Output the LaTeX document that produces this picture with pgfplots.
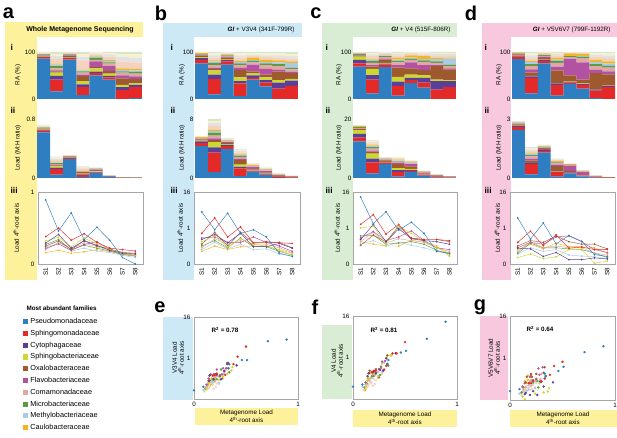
\documentclass[border=0pt]{standalone}
\usepackage{pgfplots}
\usepackage{pgfplotstable}
\pgfplotsset{compat=1.18}
\usepackage{fontspec}
\setmainfont{Liberation Sans}

\definecolor{cbl}{HTML}{2E7EC1}
\definecolor{crd}{HTML}{E42A28}
\definecolor{cpu}{HTML}{5B3E98}
\definecolor{cyg}{HTML}{CBD831}
\definecolor{cbr}{HTML}{9E5A2E}
\definecolor{cmg}{HTML}{B352A2}
\definecolor{cpk}{HTML}{E0A7A3}
\definecolor{cgn}{HTML}{5C9B45}
\definecolor{clb}{HTML}{AACBE6}
\definecolor{cor}{HTML}{F5B520}
\definecolor{co1}{HTML}{F3D2BF}
\definecolor{co2}{HTML}{E2E2E2}
\definecolor{co3}{HTML}{F8F1CB}
\definecolor{co4}{HTML}{D5E5CF}
\definecolor{bgy}{HTML}{FDF19C}
\definecolor{bgb}{HTML}{CDE9F6}
\definecolor{bgg}{HTML}{D8EDD3}
\definecolor{bgp}{HTML}{F8C9DE}

\newcommand{\fs}{\fontsize{6.3}{7}\selectfont}

% relative abundance (%) per family, tot = total load (M:H ratio)
\pgfplotstableread{
s bl rd pu yg br mg pk gn lb or o1 o2 o3 o4 tot
1 86 3 1 1 1 0.5 0.5 2 0.5 0.5 1 1 1 1 0.72
2 16 25 8 7 3 2 4 5 3 2 10 6 5 4 0.29
3 84 3 1 1 3 1 1 1 1 0.5 1.5 1 0.5 0.5 0.31
4 8 17 6 7 11 3 4 3 2 1 20 8 6 4 0.16
5 50 5 3 7 3 12 3 5 2 2 3 2 2 1 0.14
6 41 5 3 5 6 10 5 3 3 2 7 5 3 2 0.036
7 0 19 6 5 14 6 6 3 3 3 15 10 6 4 0.01
8 2 23 5 3 10 5 6 4 3 3 14 10 7 5 0.005
}\RAa
\pgfplotstableread{
s bl rd pu yg br mg pk gn lb or o1 o2 o3 o4 tot
1 76 7 4 2 3 1 1 1 0.5 2 1 0.5 0.5 0.5 5.7
2 10 33 9 9 3 3 5 5 3 2 6 5 4 3 8.0
3 73 7 3 2 3 2 2 1 1 1 2 1 1 1 5.4
4 6 27 5 8 16 4 6 4 3 2 7 5 4 3 3.95
5 41 4 5 5 4 14 5 3 2 5 3 3 3 3 2.0
6 27 8 5 6 6 12 8 4 3 5 5 4 4 3 1.45
7 0 22 13 5 18 4 8 4 4 4 6 5 4 3 0.63
8 0 28 11 4 12 3 5 4 10 3 6 5 5 4 0.31
}\RAb
\pgfplotstableread{
s bl rd pu yg br mg pk gn lb or o1 o2 o3 o4 tot
1 69 7 7 7 2 1 1 2 0.5 1 1 1 0.5 0 18.0
2 12 29 10 13 5 3 5 4 3 2 5 4 3 2 12.9
3 68 5 2 2 7 2 3 2 2 1 2 2 1 1 7.1
4 7 21 9 10 20 5 6 3 3 4 5 3 2 2 7.1
5 34 6 5 7 13 13 5 3 2 5 3 2 2 0 6.0
6 24 11 10 5 12 10 7 3 3 6 3 3 2 1 2.5
7 0 20 18 3 29 2 5 3 5 3 4 4 2 2 1.2
8 0 25 13 2 23 2 5 3 13 2 4 4 2 2 0.65
}\RAc
\pgfplotstableread{
s bl rd pu yg br mg pk gn lb or o1 o2 o3 o4 tot
1 85 5 2 0.5 2 1 1 1 0.5 1 0.5 0.5 0 0 2.88
2 12 33 3 1 7 7 7 4 5 2 6 6 4 3 1.57
3 76 5 3 0.5 3 2 2 2 1 1.5 1.5 1 1 0.5 1.69
4 7 23 3 1 27 8 8 4 3 4 5 3 2 2 0.98
5 32 3 2 1 12 36 3 2 1 5 1 1 1 0 0.73
6 22 8 2 1 8 37 9 3 2 4 2 1 1 0 0.39
7 2 16 2 0 35 7 8 4 5 5 6 4 3 3 0.13
8 0 25 3 0.5 24 6 8 4 5 4.5 7 6 4 3 0.05
}\RAd

% load on 4th-root axis per family: a = metagenome, b = V3V4, c = V4, d = V5V6V7
\pgfplotstableread{
s a b c d
1 0.89 1.45 1.86 1.28
2 0.46 0.95 1.12 0.69
3 0.71 1.41 1.45 1.14
4 0.34 0.85 0.94 0.56
5 0.51 0.95 1.16 0.79
6 0.33 0.75 0.85 0.63
7 0.09 0.30 0.35 0.26
8 0.00 0.21 0.30 0.21
}\TBl
\pgfplotstableread{
s a b c d
1 0.38 0.85 1.10 0.60
2 0.50 1.28 1.37 0.91
3 0.33 0.75 0.83 0.51
4 0.42 1.03 1.10 0.81
5 0.30 0.59 0.71 0.44
6 0.22 0.62 0.68 0.47
7 0.20 0.59 0.68 0.40
8 0.18 0.57 0.65 0.40
}\TRd
\pgfplotstableread{
s a b c d
1 0.29 0.68 0.68 0.44
2 0.41 0.82 1.10 0.42
3 0.22 0.59 0.62 0.21
4 0.32 0.85 0.98 0.32
5 0.26 0.48 0.70 0.12
6 0.19 0.48 0.65 0.12
7 0.15 0.57 0.62 0.17
8 0.14 0.44 0.55 0.14
}\TPu
\pgfplotstableread{
s a b c d
1 0.32 0.62 1.00 0.18
2 0.37 0.78 1.05 0.28
3 0.24 0.47 0.55 0.15
4 0.36 0.70 1.05 0.20
5 0.28 0.55 0.85 0.40
6 0.20 0.50 0.62 0.40
7 0.14 0.38 0.45 0.02
8 0.12 0.25 0.30 0.08
}\TYg
\pgfplotstableread{
s a b c d
1 0.25 0.55 0.52 0.50
2 0.32 0.88 0.80 0.65
3 0.20 0.50 0.62 0.60
4 0.33 0.88 1.05 0.78
5 0.25 0.58 0.72 0.62
6 0.21 0.60 0.68 0.55
7 0.16 0.60 0.68 0.55
8 0.15 0.45 0.62 0.42
}\TBr
\pgfplotstableread{
s a b c d
1 0.22 0.72 0.72 0.45
2 0.28 0.75 0.90 0.60
3 0.19 0.60 0.65 0.55
4 0.27 0.60 0.75 0.75
5 0.31 0.75 0.92 0.78
6 0.20 0.60 0.65 0.62
7 0.14 0.50 0.45 0.40
8 0.12 0.35 0.40 0.32
}\TMg
\pgfplotstableread{
s a b c d
1 0.20 0.45 0.62 0.35
2 0.30 0.70 0.88 0.62
3 0.21 0.55 0.58 0.45
4 0.29 0.65 0.70 0.50
5 0.24 0.55 0.65 0.45
6 0.19 0.55 0.60 0.45
7 0.15 0.45 0.45 0.30
8 0.13 0.32 0.35 0.25
}\TPk
\pgfplotstableread{
s a b c d
1 0.27 0.50 0.78 0.30
2 0.34 0.65 0.80 0.58
3 0.20 0.45 0.55 0.45
4 0.26 0.72 0.58 0.45
5 0.22 0.48 0.62 0.42
6 0.18 0.48 0.55 0.40
7 0.13 0.35 0.38 0.30
8 0.11 0.25 0.28 0.18
}\TGn
\pgfplotstableread{
s a b c d
1 0.24 0.40 0.55 0.28
2 0.28 0.60 0.65 0.45
3 0.18 0.42 0.50 0.35
4 0.22 0.55 0.60 0.40
5 0.18 0.40 0.52 0.25
6 0.16 0.42 0.45 0.22
7 0.12 0.28 0.35 0.20
8 0.09 0.22 0.30 0.15
}\TLb
\pgfplotstableread{
s a b c d
1 0.16 0.35 0.62 0.40
2 0.19 0.50 0.55 0.55
3 0.15 0.40 0.50 0.42
4 0.17 0.48 0.50 0.58
5 0.20 0.50 0.65 0.48
6 0.17 0.50 0.62 0.48
7 0.14 0.40 0.50 0.45
8 0.12 0.30 0.22 0.30
}\TOr
% less abundant families (scatter only)
\pgfplotstableread{
a b c d
0.12 0.22 0.25 0.18
0.15 0.30 0.35 0.25
0.18 0.35 0.40 0.30
0.20 0.42 0.48 0.32
0.22 0.38 0.45 0.36
0.14 0.26 0.30 0.22
0.25 0.48 0.55 0.40
0.17 0.40 0.38 0.28
0.10 0.18 0.22 0.15
0.28 0.52 0.60 0.45
0.21 0.30 0.36 0.26
0.13 0.34 0.28 0.20
0.19 0.25 0.32 0.24
0.16 0.45 0.42 0.34
0.24 0.36 0.50 0.30
0.11 0.28 0.20 0.12
}\TOth

\pgfplotsset{
  base/.style={scale only axis, anchor=south west, font=\fs, tick label style={font=\fs},
    /pgf/number format/assume math mode=true, major tick length=0pt},
  barax/.style={base, ybar stacked, bar width=1, xmin=0.5, xmax=8.5, ymin=0, xtick=\empty,
    axis line style={draw=none}, clip=false, yticklabel style={inner sep=1.5pt}},
  lineax/.style={base, xmin=0.4, xmax=8.6, ymin=0, xtick={1,...,8},
    xticklabels={S1,S2,S3,S4,S5,S6,S7,S8}, xticklabel style={rotate=90, anchor=east},
    axis line style={draw=gray!70, line width=0.5pt}, clip=false, height=72pt},
  scax/.style={base, xmin=0, xmax=1, ymin=0, ymax=2, xtick={0,1}, ytick={1,2}, yticklabels={1,16},
    axis line style={draw=gray!70, line width=0.5pt}, clip=false},
}

\newcommand{\RAbars}[1]{\pgfplotsinvokeforeach{bl,rd,pu,yg,br,mg,pk,gn,lb,or,o1,o2,o3,o4}{%
  \addplot[fill=c##1, draw=none, legend image code/.code={\fill[c##1] (0pt,-2.6pt) rectangle (5.2pt,2.6pt);}] table[x=s,y=##1]{#1};}}
\newcommand{\Loadbars}[1]{\pgfplotsinvokeforeach{bl,rd,pu,yg,br,mg,pk,gn,lb,or,o1,o2,o3,o4}{%
  \addplot[fill=c##1, draw=none] table[x=s,y expr=\thisrow{##1}*\thisrow{tot}/100]{#1};}}
\newcommand{\famline}[3]{\addplot[color=#2, line width=0.45pt, mark=*, mark size=0.65pt] table[x=s,y=#3]{#1};}
\newcommand{\RowLines}[1]{\famline{\TOr}{cor}{#1}\famline{\TLb}{clb}{#1}\famline{\TGn}{cgn}{#1}%
  \famline{\TPk}{cpk}{#1}\famline{\TMg}{cmg}{#1}\famline{\TBr}{cbr}{#1}\famline{\TYg}{cyg}{#1}%
  \famline{\TPu}{cpu}{#1}\famline{\TRd}{crd}{#1}\famline{\TBl}{cbl}{#1}}
\newcommand{\famdot}[3]{\addplot[only marks, color=#2, mark=*, mark size=1pt, mark options={draw=none, fill=#2}] table[x=a,y=#3]{#1};}
\newcommand{\Scatter}[1]{\famdot{\TOth}{co1}{#1}\famdot{\TOr}{cor}{#1}\famdot{\TLb}{clb}{#1}\famdot{\TGn}{cgn}{#1}%
  \famdot{\TPk}{cpk}{#1}\famdot{\TMg}{cmg}{#1}\famdot{\TBr}{cbr}{#1}\famdot{\TYg}{cyg}{#1}%
  \famdot{\TPu}{cpu}{#1}\famdot{\TRd}{crd}{#1}\famdot{\TBl}{cbl}{#1}}

\begin{document}
\begin{tikzpicture}[x=1pt,y=1pt]
\useasboundingbox (0,0) rectangle (617,438);
% coloured panels
\fill[bgy] (5,416) rectangle (143,401); \fill[bgy] (5,401) rectangle (37,158);
\fill[bgb] (163,415) rectangle (302,401); \fill[bgb] (163,401) rectangle (194,158);
\fill[bgg] (322,415) rectangle (457,401); \fill[bgg] (322,401) rectangle (353,158);
\fill[bgp] (482,415) rectangle (617,401); \fill[bgp] (482,401) rectangle (511,158);
\fill[bgb] (163,121) rectangle (193,38); \fill[bgy] (195,30) rectangle (298,13);
\fill[bgg] (322,113) rectangle (352,39); \fill[bgy] (353,28) rectangle (457,11);
\fill[bgp] (480,122) rectangle (508,38); \fill[bgy] (510,28) rectangle (617,11);

% ---------- panel a ----------
\begin{axis}[barax, at={(37pt,339pt)}, width=105pt, height=47pt, ymax=100, ytick={0,100},
  legend style={at={(axis description cs:-0.162,-4.574)}, anchor=north west, draw=none, fill=none,
    font=\fontsize{7.3}{8}\selectfont, row sep=1pt}, legend cell align=left]
\RAbars{\RAa}
\legend{Pseudomonadaceae,Sphingomonadaceae,Cytophagaceae,Sphingobacteriaceae,Oxalobacteraceae,Flavobacteriaceae,Comamonadaceae,Microbacteriaceae,Methylobacteriaceae,Caulobacteraceae}
\end{axis}
\begin{axis}[barax, at={(37pt,260pt)}, width=105pt, height=59pt, ymax=0.8, ytick={0,0.8}]
\Loadbars{\RAa}
\end{axis}
\begin{axis}[lineax, at={(38pt,174pt)}, width=105pt, ymax=1, ytick={0,1}]
\RowLines{a}
\end{axis}
% ---------- panel b ----------
\begin{axis}[barax, at={(195pt,339pt)}, width=103pt, height=47pt, ymax=100, ytick={0,100}]
\RAbars{\RAb}
\end{axis}
\begin{axis}[barax, at={(195pt,260pt)}, width=103pt, height=59pt, ymax=8, ytick={0,8}]
\Loadbars{\RAb}
\end{axis}
\begin{axis}[lineax, at={(194pt,174pt)}, width=106pt, ymax=2, ytick={0,1,2}, yticklabels={0,1,16}]
\RowLines{b}
\end{axis}
% ---------- panel c ----------
\begin{axis}[barax, at={(353pt,339pt)}, width=103pt, height=47pt, ymax=100, ytick={0,100}]
\RAbars{\RAc}
\end{axis}
\begin{axis}[barax, at={(353pt,260pt)}, width=103pt, height=59pt, ymax=20, ytick={0,20}]
\Loadbars{\RAc}
\end{axis}
\begin{axis}[lineax, at={(353pt,174pt)}, width=104pt, ymax=2, ytick={0,1,2}, yticklabels={0,1,16}]
\RowLines{c}
\end{axis}
% ---------- panel d ----------
\begin{axis}[barax, at={(512pt,339pt)}, width=103pt, height=47pt, ymax=100, ytick={0,100}]
\RAbars{\RAd}
\end{axis}
\begin{axis}[barax, at={(512pt,260pt)}, width=103pt, height=59pt, ymax=3, ytick={0,3}]
\Loadbars{\RAd}
\end{axis}
\begin{axis}[lineax, at={(510pt,174pt)}, width=105pt, ymax=2, ytick={0,1,2}, yticklabels={0,1,16}]
\RowLines{d}
\end{axis}
% ---------- scatter e, f, g ----------
\begin{axis}[scax, at={(194pt,39pt)}, width=104pt, height=82pt]
\Scatter{b}
\end{axis}
\begin{axis}[scax, at={(353pt,39pt)}, width=104pt, height=83pt]
\Scatter{c}
\end{axis}
\begin{axis}[scax, at={(510pt,38pt)}, width=105pt, height=84pt]
\Scatter{d}
\end{axis}

% ---------- text ----------
\tikzset{plab/.style={font=\bfseries\fontsize{20}{20}\selectfont}, rlab/.style={anchor=west, font=\bfseries\fontsize{8.5}{9}\selectfont}}
\node[plab] at (8.5,425) {a};
\node[plab] at (161,425) {b};
\node[plab] at (316,425) {c};
\node[plab] at (471,425) {d};
\node[plab] at (160,131) {e};
\node[plab] at (315,131) {f};
\node[plab] at (480,131) {g};

\node[font=\bfseries\fontsize{7}{8}\selectfont] at (80,408.5) {Whole Metagenome Sequencing};
\node[anchor=east, font=\fs] at (298,408.5) {\textbf{\textit{GI}} + V3V4 (341F-799R)};
\node[anchor=east, font=\fs] at (454,408.5) {\textbf{\textit{GI}} + V4 (515F-806R)};
\node[anchor=east, font=\fs] at (614,408.5) {\textbf{\textit{GI}} + V5V6V7 (799F-1192R)};

\foreach \xx in {7,167,322,481} {
  \node[rlab] at (\xx,391) {i};
  \node[rlab] at (\xx,328) {ii};
  \node[rlab] at (\xx,248) {iii};
}
\foreach \xx in {18,182,339,499} {
  \node[rotate=90, font=\fs] at (\xx,363) {RA (\%)};
  \node[rotate=90, font=\fs] at (\xx,290) {Load (M:H ratio)};
  \node[rotate=90, font=\fs] at (\xx-2,210) {Load 4\textsuperscript{th}-root axis};
}

\node[anchor=west, font=\bfseries\fs] at (208,108) {R\textsuperscript{2} = 0.78};
\node[anchor=west, font=\bfseries\fs] at (367,108) {R\textsuperscript{2} = 0.81};
\node[anchor=west, font=\bfseries\fs] at (523,109) {R\textsuperscript{2} = 0.64};

\node[rotate=90, align=center, font=\fs] at (178,80) {V3V4 Load\\4\textsuperscript{th}-root axis};
\node[rotate=90, align=center, font=\fs] at (337,77) {V4 Load\\4\textsuperscript{th}-root axis};
\node[rotate=90, align=center, font=\fs] at (494,80) {V5V6V7 Load\\4\textsuperscript{th}-root axis};
\node[align=center, font=\fs] at (246.5,21.5) {Metagenome Load\\4\textsuperscript{th}-root axis};
\node[align=center, font=\fs] at (405,19.5) {Metagenome Load\\4\textsuperscript{th}-root axis};
\node[align=center, font=\fs] at (563,19.5) {Metagenome Load\\4\textsuperscript{th}-root axis};

\node[anchor=west, font=\bfseries\fs] at (23,130) {Most abundant families};
\end{tikzpicture}
\end{document}
